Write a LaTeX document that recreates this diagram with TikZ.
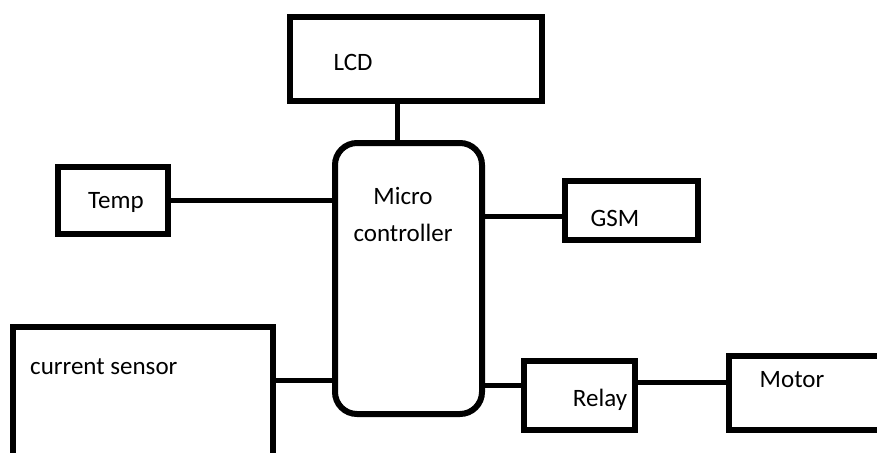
\documentclass[tikz,border=0pt]{standalone}
\usepackage{fontspec}
\setmainfont{Carlito}
\usepackage{tikz}

\begin{document}
\begin{tikzpicture}[x=1pt,y=-1pt,
   blk/.style n args={3}{draw,rectangle,line width=6pt,inner sep=0pt,minimum width=#1pt,minimum height=#2pt,rounded corners=#3pt},
   txt/.style={font=\fontsize{25}{37}\selectfont,inner sep=0pt},
   wire/.style={line width=5pt}]
\useasboundingbox (0,0) rectangle (877,452);
\clip (0,0) rectangle (877,452);
% boxes
\node[blk={252}{84}{0}] (lcd) at (416,59) {};
\node[blk={147}{271}{22}] (mc) at (408.5,278.5) {};
\node[blk={110}{67}{0}] (temp) at (113,200.5) {};
\node[blk={260}{170}{0}] (cur) at (143,412) {};
\node[blk={133}{59}{0}] (gsm) at (631.5,210.5) {};
\node[blk={111}{69}{0}] (relay) at (579.5,395.5) {};
\node[blk={218}{74}{0}] (motor) at (838,393) {};
% texts
\node[txt] (lcd-t) at (353,62) {LCD};
\node[txt,align=center] (mc-t) at (403,214) {Micro\\controller};
\node[txt] (temp-t) at (116,202) {Temp};
\node[txt,anchor=west] (cur-t) at (30,367) {current sensor};
\node[txt] (gsm-t) at (615,218) {GSM};
\node[txt] (relay-t) at (600,400) {Relay};
\node[txt] (motor-t) at (792,380) {Motor};
% wires
\draw[wire] ([xshift=-11pt]mc.north) -- ([xshift=-11pt]mc.north |- lcd.south);
\draw[wire] (temp.east) -- (temp.east -| mc.west);
\draw[wire] ([yshift=-5.5pt]gsm.west) -- ([yshift=-5.5pt]gsm.west -| mc.east);
\draw[wire] ([yshift=32pt]cur.east) -- ([yshift=32pt]cur.east -| mc.west);
\draw[wire] ([yshift=10pt]relay.west) -- ([yshift=10pt]relay.west -| mc.east);
\draw[wire] ([yshift=13.5pt]relay.east) -- ([yshift=13.5pt]relay.east -| motor.west);
\end{tikzpicture}
\end{document}
